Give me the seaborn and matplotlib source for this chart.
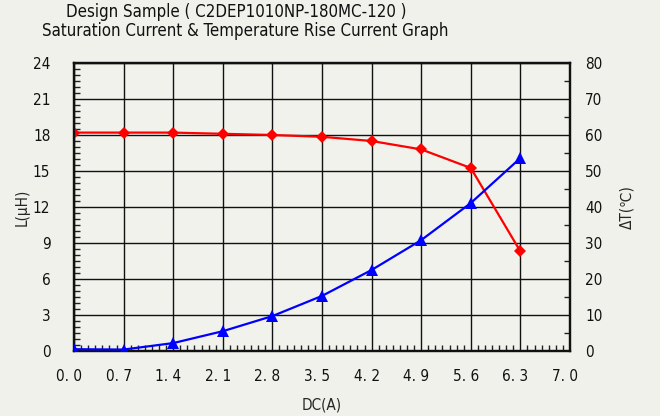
import numpy as np
import pandas as pd
import matplotlib
matplotlib.use("Agg")
import matplotlib.pyplot as plt
import seaborn as sns
from matplotlib.ticker import MultipleLocator
from matplotlib import font_manager
from matplotlib.transforms import ScaledTranslation

current = [0.0, 0.7, 1.4, 2.1, 2.8, 3.5, 4.2, 4.9, 5.6, 6.3]
inductance = [18.2, 18.2, 18.2, 18.1, 18.0, 17.85, 17.5, 16.8, 15.25, 8.3]
temp_rise = [0.5, 0.4, 2.2, 5.5, 9.7, 15.3, 22.5, 30.8, 41.1, 53.6]
x_ticks = [0.0, 0.7, 1.4, 2.1, 2.8, 3.5, 4.2, 4.9, 5.6, 6.3, 7.0]
x_tick_labels = ["0. 0", "0. 7", "1. 4", "2. 1", "2. 8", "3. 5", "4. 2", "4. 9", "5. 6", "6. 3", "7. 0"]
left_ticks = [0, 3, 6, 9, 12, 15, 18, 21, 24]
right_ticks = [0, 10, 20, 30, 40, 50, 60, 70, 80]

sns.set_style("white")

# pick a condensed font if one is installed
cond_path = None
for f in font_manager.fontManager.ttflist:
    fn = f.fname.lower()
    if ("condensed" in fn or "narrow" in fn) and "bold" not in fn and "oblique" not in fn and "italic" not in fn:
        if cond_path is None or "dejavusans" in fn.replace("-", ""):
            cond_path = f.fname
if cond_path:
    font_manager.fontManager.addfont(cond_path)
    cond_name = font_manager.FontProperties(fname=cond_path).get_name()
    cond_stretch = [f.stretch for f in font_manager.fontManager.ttflist if f.fname == cond_path][0]
else:
    cond_name, cond_stretch = "DejaVu Sans", "normal"
plt.rcParams['font.family'] = [cond_name, 'DejaVu Sans']
plt.rcParams['font.stretch'] = cond_stretch

df = pd.DataFrame({"DC": current, "L": inductance, "T": temp_rise})

bg = "#eff1ea"
fig = plt.figure(figsize=(6.6, 4.16), dpi=100, facecolor=bg)
ax = fig.add_axes([74/660, 1-351/416, 496/660, 288/416])
ax.set_facecolor("#f1f2ec")
ax2 = ax.twinx()

sns.lineplot(data=df, x="DC", y="L", ax=ax, color="#ff0000", marker="D",
             markersize=6, markeredgewidth=0, linewidth=1.6, zorder=5)
sns.lineplot(data=df, x="DC", y="T", ax=ax2, color="#0000ff", marker="^",
             markersize=8, markeredgewidth=0, linewidth=1.6, zorder=5)

ax.set_xlim(0, 7.0)
ax.set_ylim(0, 24)
ax2.set_ylim(0, 80)
ax.set_xticks(x_ticks)
ax.set_xticklabels(x_tick_labels)
ax.set_yticks(left_ticks)
ax2.set_yticks(right_ticks)
ax.xaxis.set_minor_locator(MultipleLocator(0.1))
ax.yaxis.set_minor_locator(MultipleLocator(0.5))
ax2.yaxis.set_minor_locator(MultipleLocator(5))

ax.grid(True, which="major", color="#111111", linewidth=1.0)
ax.set_axisbelow(True)
ax.tick_params(axis="both", which="major", length=0, labelsize=11, colors="#111111")
ax.tick_params(axis="x", which="major", pad=13)
ax.tick_params(axis="y", which="major", pad=17)
ax.tick_params(axis="x", which="minor", direction="in", length=4, width=1, color="#222222", bottom=True)
ax.tick_params(axis="y", which="minor", direction="in", length=4, width=1, color="#222222", left=True)
ax2.tick_params(axis="y", which="major", length=0, labelsize=11, colors="#111111", pad=11)
ax2.tick_params(axis="y", which="minor", direction="in", length=4, width=1, color="#222222", right=True)
shift = ScaledTranslation(-5/100, 0, fig.dpi_scale_trans)
for lab in ax.get_xticklabels():
    lab.set_transform(lab.get_transform() + shift)

for a in (ax, ax2):
    for s in a.spines.values():
        s.set_color("#111111")
        s.set_linewidth(1.6)

ax.set_xlabel("DC(A)", fontsize=11)
ax.xaxis.set_label_coords((322-74)/496, (351-397)/288)
ax.set_ylabel("L(μH)", fontsize=11)
ax.yaxis.set_label_coords((30-74)/496, 0.5)
ax2.set_ylabel("ΔT(℃)", fontsize=11)
ax2.yaxis.set_label_coords((619-74)/496, 0.5)

t1 = fig.text(236/660, 1-12/416, "Design Sample ( C2DEP1010NP-180MC-120 )", ha="center", va="center",
              fontsize=11, color="#111111")
t2 = fig.text(245/660, 1-31/416, "Saturation Current & Temperature Rise Current Graph", ha="center", va="center",
              fontsize=11, color="#111111")
fig.canvas.draw()
r = fig.canvas.get_renderer()
w = t2.get_window_extent(r).width
fs = min(12.5, 11 * 405 / w)
t1.set_fontsize(fs)
t2.set_fontsize(fs)

fig.savefig("out.png", dpi=100, facecolor=bg)
